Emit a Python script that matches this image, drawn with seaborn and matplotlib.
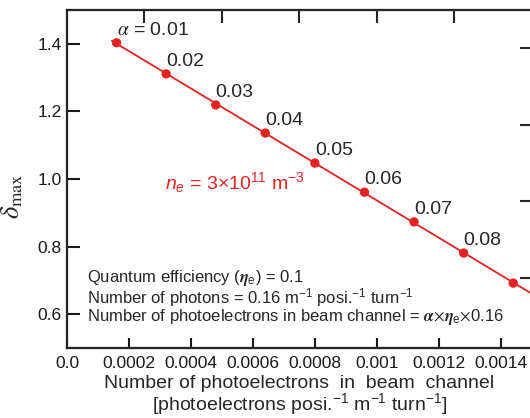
import numpy as np
import pandas as pd
import matplotlib
matplotlib.use("Agg")
import matplotlib.pyplot as plt
import seaborn as sns

# values
alpha = [0.01, 0.02, 0.03, 0.04, 0.05, 0.06, 0.07, 0.08, 0.09]
photoelectrons = [0.00016, 0.00032, 0.00048, 0.00064, 0.00080,
                  0.00096, 0.00112, 0.00128, 0.00144]
delta_max = [1.403, 1.311, 1.219, 1.136, 1.047, 0.961, 0.873, 0.781, 0.692]
x_ticks = [0.0, 0.0002, 0.0004, 0.0006, 0.0008, 0.001, 0.0012, 0.0014]
x_tick_labels = ["0.0", "0.0002", "0.0004", "0.0006", "0.0008", "0.001", "0.0012", "0.0014"]
y_ticks = [0.6, 0.8, 1.0, 1.2, 1.4]

df = pd.DataFrame({"x": photoelectrons, "y": delta_max, "alpha": alpha})

sns.set_style("ticks")
plt.rcParams["font.family"] = ["Liberation Sans", "DejaVu Sans"]
plt.rcParams["mathtext.fontset"] = "custom"
plt.rcParams["mathtext.rm"] = "Liberation Sans"
plt.rcParams["mathtext.it"] = "Liberation Sans:italic"
plt.rcParams["mathtext.bf"] = "Liberation Sans:bold"

RED = "#e32222"

fig = plt.figure(figsize=(5.3, 4.18), dpi=100)
ax = fig.add_axes([0.1264, 0.1675, 0.877, 0.8086])

# linear fit drawn across the plot, points on top
slope, icpt = np.polyfit(df["x"], df["y"], 1)
fit_x = np.array([df["x"].iloc[0] - 0.000015, 0.0016])
sns.lineplot(x=fit_x, y=slope * fit_x + icpt, color=RED, lw=1.3, ax=ax)
sns.scatterplot(data=df, x="x", y="y", color=RED, s=45, edgecolor="none", ax=ax, zorder=3)

# last label falls outside the cropped figure, so it is not drawn
for i, row in df.iloc[:-1].iterrows():
    lab = f"{row['alpha']:.2f}"
    if i == 0:
        lab = r"$\alpha$ = " + lab
    ax.annotate(lab, (row["x"], row["y"]), xytext=(0, 3), textcoords="offset points",
                ha="left", va="bottom", fontsize=14, math_fontfamily="stix")

ax.text(0.000316, 0.99, r"$n_e$ = 3$\times$10$^{11}$ m$^{-3}$", color=RED,
        fontsize=14, va="center", ha="left")

note = "\n".join([
    r"Quantum efficiency ($\boldsymbol{\eta}_{\mathregular{e}}$) = 0.1",
    r"Number of photons = 0.16 m$\mathregular{^{-1}}$ posi.$\mathregular{^{-1}}$ turn$\mathregular{^{-1}}$",
    r"Number of photoelectrons in beam channel = $\boldsymbol{\alpha}$$\times$$\boldsymbol{\eta}_{\mathregular{e}}$$\times$0.16",
])
ax.text(0.043, 0.150, note, transform=ax.transAxes, fontsize=12, va="center", ha="left",
        linespacing=0.86, math_fontfamily="stix")

ax.set_xlim(0, 0.0015)
ax.set_ylim(0.5, 1.5)
ax.set_xticks(x_ticks)
ax.set_xticklabels(x_tick_labels)
ax.set_yticks(y_ticks)
ax.set_yticklabels([f"{v:.1f}" for v in y_ticks])
ax.tick_params(direction="in", length=9, width=1.5, labelsize=12.5, colors="#1a1a1a")
ax.tick_params(axis="x", length=7, pad=6)
ax.tick_params(axis="y", pad=4)

ax.set_xlabel("Number of photoelectrons  in  beam  channel\n"
              r"[photoelectrons posi.$\mathregular{^{-1}}$ m$\mathregular{^{-1}}$ turn$\mathregular{^{-1}}$]",
              fontsize=14, linespacing=0.92, labelpad=3)
ax.set_ylabel(r"$\delta_{\mathrm{max}}$", fontsize=19, math_fontfamily="stix")
ax.yaxis.set_label_coords(-0.09, 0.45)

for sp in ax.spines.values():
    sp.set_linewidth(1.5)
    sp.set_color("#111111")

# secondary axes only carry inward ticks, no labels
ax_top = ax.twiny()
ax_top.set_xlim(0, 6)
ax_top.set_xticks([1, 2, 3, 4, 5])
ax_top.tick_params(axis="x", direction="in", length=9, width=1.5, labeltop=False)
ax_right = ax.twinx()
ax_right.set_ylim(-0.913, 3.494)
ax_right.set_yticks([0, 1, 2, 3])
ax_right.tick_params(axis="y", direction="in", length=9, width=1.5, labelright=False)
for a in (ax_top, ax_right):
    for sp in a.spines.values():
        sp.set_linewidth(1.5)

fig.savefig("out.png", dpi=100)
